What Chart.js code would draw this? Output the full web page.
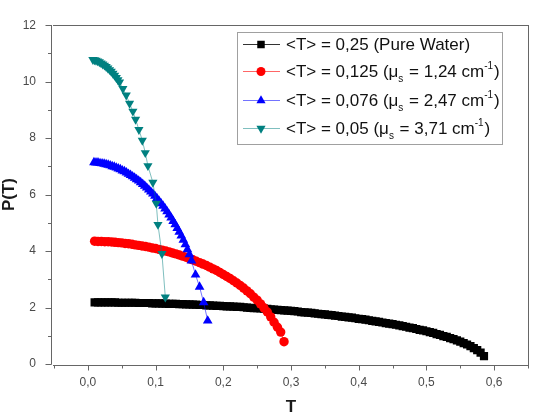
<!DOCTYPE html>
<html><head><meta charset="utf-8">
<script src="https://cdn.jsdelivr.net/npm/chart.js@4/dist/chart.umd.min.js"></script>
<style>html,body{margin:0;padding:0;background:#fff;}canvas{display:block}</style>
</head><body>
<canvas id="c" width="537" height="413"></canvas>
<script>
// ---- data ----
const blackT = [0.010,0.015,0.020,0.025,0.030,0.035,0.040,0.045,0.050,0.055,0.060,0.065,0.070,0.075,0.080,0.085,0.090,0.095,0.100,0.105,0.110,0.115,0.120,0.125,0.130,0.135,0.140,0.145,0.150,0.155,0.160,0.165,0.170,0.175,0.180,0.185,0.190,0.195,0.200,0.205,0.210,0.215,0.220,0.225,0.230,0.235,0.240,0.245,0.250,0.255,0.260,0.265,0.270,0.275,0.280,0.285,0.290,0.295,0.300,0.305,0.310,0.315,0.320,0.325,0.330,0.335,0.340,0.345,0.350,0.355,0.360,0.365,0.370,0.375,0.380,0.385,0.390,0.395,0.400,0.405,0.410,0.415,0.420,0.425,0.430,0.435,0.440,0.445,0.450,0.455,0.460,0.465,0.470,0.475,0.480,0.485,0.490,0.495,0.500,0.505,0.510,0.515,0.520,0.525,0.530,0.535,0.540,0.545,0.550,0.555,0.560,0.565,0.570,0.575,0.580,0.585];
const blackP = [2.18,2.18,2.18,2.18,2.18,2.18,2.18,2.17,2.17,2.17,2.17,2.17,2.17,2.16,2.16,2.16,2.16,2.15,2.15,2.15,2.14,2.14,2.13,2.13,2.13,2.12,2.12,2.11,2.11,2.10,2.10,2.09,2.09,2.08,2.08,2.07,2.06,2.06,2.05,2.04,2.04,2.03,2.02,2.02,2.01,2.00,1.99,1.98,1.98,1.97,1.96,1.95,1.94,1.93,1.92,1.91,1.90,1.89,1.88,1.87,1.86,1.84,1.83,1.82,1.81,1.79,1.78,1.77,1.76,1.74,1.73,1.71,1.70,1.68,1.67,1.65,1.64,1.62,1.60,1.59,1.57,1.55,1.53,1.51,1.49,1.47,1.45,1.43,1.41,1.39,1.37,1.34,1.32,1.29,1.27,1.24,1.21,1.19,1.16,1.13,1.10,1.06,1.03,0.99,0.96,0.92,0.88,0.84,0.79,0.74,0.69,0.63,0.56,0.49,0.40,0.28];

const redT = [0.010,0.015,0.020,0.025,0.030,0.035,0.040,0.045,0.050,0.055,0.060,0.065,0.070,0.075,0.080,0.085,0.090,0.095,0.100,0.105,0.110,0.115,0.120,0.125,0.130,0.135,0.140,0.145,0.150,0.155,0.160,0.165,0.170,0.175,0.180,0.185,0.190,0.195,0.200,0.205,0.210,0.215,0.220,0.225,0.230,0.235,0.240,0.245,0.250,0.255,0.260,0.265,0.270,0.275,0.280,0.2848,0.2897];
const redP = [4.35,4.34,4.34,4.33,4.33,4.32,4.31,4.30,4.29,4.27,4.26,4.24,4.22,4.20,4.18,4.16,4.14,4.11,4.09,4.06,4.03,4.00,3.97,3.93,3.90,3.86,3.82,3.78,3.73,3.69,3.64,3.59,3.54,3.49,3.43,3.37,3.31,3.24,3.17,3.10,3.03,2.95,2.87,2.78,2.69,2.59,2.49,2.37,2.26,2.13,1.99,1.84,1.67,1.48,1.30,1.13,0.79];

const blueT = [0.009,0.012,0.015,0.018,0.021,0.024,0.027,0.030,0.033,0.036,0.039,0.042,0.045,0.048,0.051,0.054,0.057,0.060,0.063,0.066,0.069,0.072,0.075,0.078,0.081,0.084,0.087,0.090,0.093,0.096,0.099,0.102,0.105,0.108,0.111,0.114,0.117,0.120,0.123,0.126,0.129,0.132,0.135,0.138,0.141,0.144,0.147,0.150,0.153,0.159,0.165,0.171,0.177];
const blueP = [7.14,7.13,7.13,7.11,7.10,7.09,7.07,7.05,7.03,7.00,6.98,6.95,6.92,6.89,6.85,6.82,6.78,6.73,6.69,6.64,6.59,6.54,6.49,6.43,6.37,6.31,6.24,6.17,6.10,6.03,5.95,5.87,5.78,5.69,5.60,5.50,5.40,5.29,5.18,5.06,4.94,4.81,4.68,4.54,4.39,4.23,4.06,3.88,3.66,3.16,2.73,2.18,1.53];

const tealT = [0.0074,0.0097,0.012,0.0145,0.017,0.0195,0.022,0.0245,0.027,0.0295,0.032,0.0345,0.037,0.0395,0.042,0.0444,0.0468,0.0517,0.0567,0.0616,0.0665,0.0705,0.0754,0.0804,0.0848,0.0887,0.096,0.101,0.1035,0.1094,0.1144];
const tealP = [10.78,10.77,10.75,10.73,10.70,10.66,10.62,10.58,10.53,10.48,10.42,10.36,10.29,10.22,10.14,10.06,9.98,9.75,9.52,9.23,8.95,8.66,8.30,7.92,7.48,7.02,6.43,5.69,4.94,3.91,2.37];

const xTicks = [0.0,0.1,0.2,0.3,0.4,0.5,0.6];
const yTicks = [0,2,4,6,8,10,12];
const xLabels = ["0,0","0,1","0,2","0,3","0,4","0,5","0,6"];
const yLabels = ["0","2","4","6","8","10","12"];
const xTitle = "T";
const yTitle = "P(T)";
// legend labels: [text, kind] segments (kind: "", "sub", "sup")
const legendLabels = [
  [["<T> = 0,25 (Pure Water)",""]],
  [["<T> = 0,125 (\u03bc",""],["s","sub"],[" = 1,24 cm",""],["-1","sup"],[")",""]],
  [["<T> = 0,076 (\u03bc",""],["s","sub"],[" = 2,47 cm",""],["-1","sup"],[")",""]],
  [["<T> = 0,05 (\u03bc",""],["s","sub"],[" = 3,71 cm",""],["-1","sup"],[")",""]]
];

// ---- styles ----
const styles = [
  {color:'#000000', line:'rgba(0,0,0,0.8)', pointStyle:'rect', radius:5.8, legendRadius:5.3, rotation:0, order:4},
  {color:'#ff0000', line:'rgba(255,0,0,0.6)', pointStyle:'circle', radius:4.7, legendRadius:4.5, rotation:0, order:3},
  {color:'#0000ff', line:'rgba(0,0,255,0.55)', pointStyle:'triangle', radius:5.6, legendRadius:5.3, rotation:0, order:2},
  {color:'#008080', line:'rgba(0,128,128,0.5)', pointStyle:'triangle', radius:5.3, legendRadius:5.3, rotation:180, order:1}
];
const series = [[blackT,blackP],[redT,redP],[blueT,blueP],[tealT,tealP]];
const FONT = '"Liberation Sans", Arial, Helvetica, sans-serif';

const datasets = series.map((s,i)=>({
  data: s[0].map((t,j)=>({x:t, y:s[1][j]})),
  borderColor: styles[i].line,
  borderWidth: 1,
  backgroundColor: styles[i].color,
  pointBackgroundColor: styles[i].color,
  pointBorderWidth: 0,
  pointStyle: styles[i].pointStyle,
  pointRadius: styles[i].radius,
  pointRotation: styles[i].rotation,
  pointHoverRadius: styles[i].radius,
  order: styles[i].order,
  tension: 0,
  showLine: true
}));

const framePlugin = {
  id: 'framePlugin',
  afterDraw(chart){
    const ctx = chart.ctx, a = chart.chartArea, xs = chart.scales.x, ys = chart.scales.y;
    ctx.save();
    ctx.strokeStyle = '#666';
    ctx.lineWidth = 1;
    const yAxisX = Math.round(a.left) - 3 + 0.5;
    const xAxisY = Math.round(a.bottom) + 1 + 0.5;
    const top = Math.round(a.top) + 0.5;
    const right = Math.round(a.right) + 0.5;
    ctx.beginPath();
    ctx.moveTo(yAxisX, top - 0.5); ctx.lineTo(yAxisX, Math.round(a.bottom) + 0.5);
    ctx.moveTo(Math.round(a.left) - 1, top); ctx.lineTo(right + 0.5, top);
    ctx.moveTo(right, top); ctx.lineTo(right, xAxisY + 0.5);
    ctx.moveTo(Math.round(a.left) - 1, xAxisY); ctx.lineTo(right + 0.5, xAxisY);
    yTicks.forEach(v=>{
      const py = Math.round(ys.getPixelForValue(v)) + 0.5;
      ctx.moveTo(yAxisX, py); ctx.lineTo(yAxisX - 6, py);
    });
    for (let i = 0; i < yTicks.length - 1; i++) {
      const py = Math.round(ys.getPixelForValue((yTicks[i] + yTicks[i+1]) / 2)) + 0.5;
      ctx.moveTo(yAxisX, py); ctx.lineTo(yAxisX - 3.5, py);
    }
    xTicks.forEach(v=>{
      const px = Math.round(xs.getPixelForValue(v)) + 0.5;
      ctx.moveTo(px, xAxisY); ctx.lineTo(px, xAxisY + 5);
    });
    const step = xTicks[1] - xTicks[0];
    for (let i = -1; i < xTicks.length; i++) {
      const v = xTicks[0] + step * i + step / 2;
      const px = Math.round(xs.getPixelForValue(v)) + 0.5;
      ctx.moveTo(px, xAxisY); ctx.lineTo(px, xAxisY + 3);
    }
    ctx.stroke();

    ctx.fillStyle = '#1a1a1a';
    ctx.font = 'bold 17px ' + FONT;
    ctx.textAlign = 'center';
    ctx.textBaseline = 'alphabetic';
    ctx.fillText(xTitle, (a.left + a.right) / 2, 412);
    ctx.save();
    ctx.translate(14, (a.top + a.bottom) / 2);
    ctx.rotate(-Math.PI / 2);
    ctx.fillText(yTitle, 0, 0);
    ctx.restore();

    const bx = 237.5, by = 32.5, bw = 265, bh = 112;
    ctx.fillStyle = '#fff';
    ctx.fillRect(bx, by, bw, bh);
    ctx.strokeStyle = '#a0a0a0';
    ctx.strokeRect(bx, by, bw, bh);
    const rowsY = [44, 71, 100, 128];
    legendLabels.forEach((segs, i)=>{
      const y = rowsY[i];
      const st = styles[i];
      ctx.strokeStyle = st.line;
      ctx.lineWidth = 1;
      ctx.beginPath();
      ctx.moveTo(243, y + 0.5); ctx.lineTo(280, y + 0.5);
      ctx.stroke();
      ctx.fillStyle = st.color;
      Chart.helpers.drawPoint(ctx, {pointStyle: st.pointStyle, radius: st.legendRadius, rotation: st.rotation, borderWidth: 0}, 261, y + 0.5);
      let x = 286;
      ctx.fillStyle = '#111';
      ctx.textAlign = 'left';
      ctx.textBaseline = 'alphabetic';
      segs.forEach(([txt, kind])=>{
        let dy = 6;
        if (kind === 'sub') { ctx.font = '10px ' + FONT; dy = 11; }
        else if (kind === 'sup') { ctx.font = '10px ' + FONT; dy = -2; }
        else { ctx.font = '17px ' + FONT; }
        ctx.fillText(txt, x, y + dy);
        x += ctx.measureText(txt).width + (kind ? 1 : 0);
      });
    });
    ctx.restore();
  }
};

new Chart(document.getElementById('c'), {
  type: 'scatter',
  data: { datasets },
  options: {
    responsive: false,
    animation: false,
    devicePixelRatio: 1,
    layout: { padding: { top: 14, right: 9, left: 0, bottom: 0 } },
    plugins: { legend: { display: false }, tooltip: { enabled: false } },
    scales: {
      x: {
        type: 'linear', min: -0.05, max: 0.65,
        afterBuildTicks: s => { s.ticks = xTicks.map(v => ({ value: v })); },
        afterFit: s => { s.height = 49; },
        grid: { display: false, drawTicks: false },
        border: { display: false },
        ticks: {
          autoSkip: false, maxRotation: 0, padding: 11,
          color: '#4a4a4a', font: { family: FONT, size: 12 },
          callback: (v, i) => xLabels[i]
        }
      },
      y: {
        type: 'linear', min: 0, max: 12,
        afterBuildTicks: s => { s.ticks = yTicks.map(v => ({ value: v })); },
        afterFit: s => { s.width = 54; },
        grid: { display: false, drawTicks: false },
        border: { display: false },
        ticks: {
          autoSkip: false, padding: 18,
          color: '#4a4a4a', font: { family: FONT, size: 12 },
          callback: (v, i) => yLabels[i]
        }
      }
    }
  },
  plugins: [framePlugin]
});
</script>
</body></html>
